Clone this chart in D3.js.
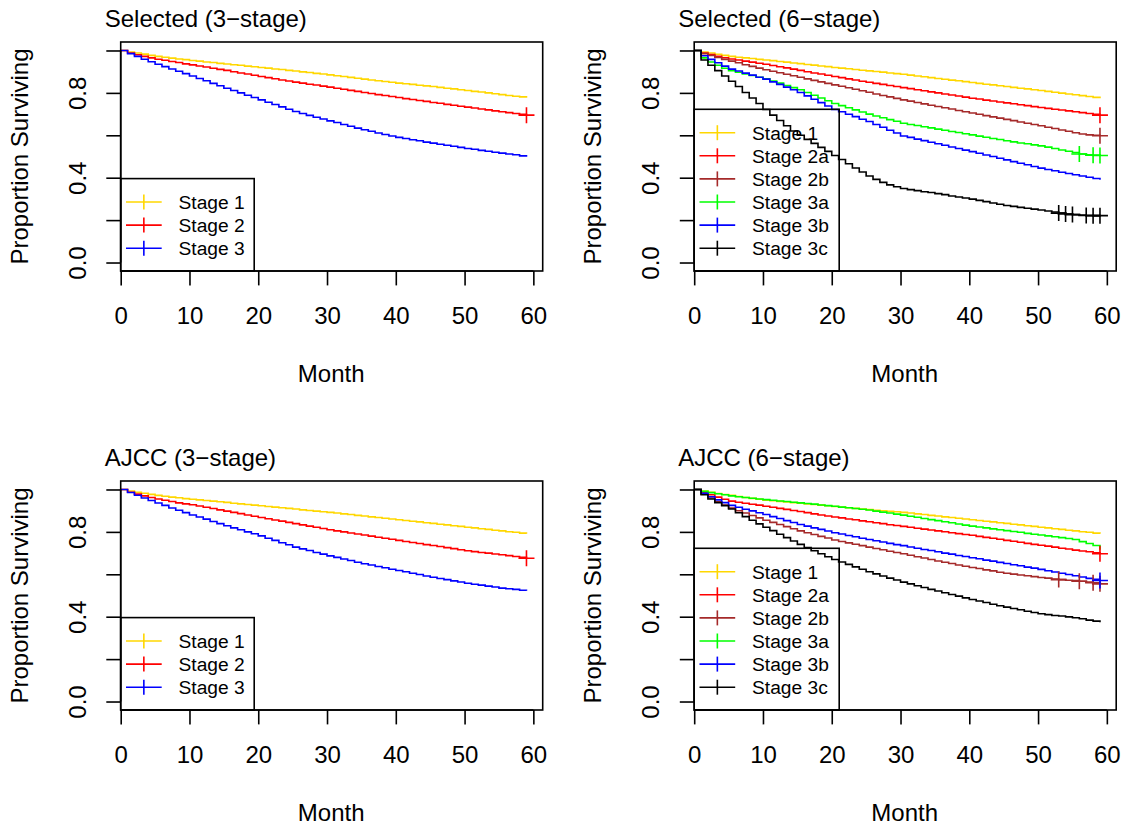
<!DOCTYPE html>
<html>
<head>
<meta charset="utf-8">
<script src="https://cdn.jsdelivr.net/npm/d3@7"></script>
<style>
  html, body { margin: 0; padding: 0; background: #fff; }
  svg { display: block; }
  text { font-family: "Liberation Sans", Arial, Helvetica, sans-serif; fill: #000; }
</style>
</head>
<body>
<svg id="chart" width="1125" height="825"></svg>
<script>
// Kaplan-Meier survival estimates by stage, monthly step values (month 0..59)
const months = d3.range(0, 60);

const xTicks = [0, 10, 20, 30, 40, 50, 60];
const yTicks = [0, 0.2, 0.4, 0.6, 0.8, 1.0];
const yLabelTicks = [0, 0.4, 0.8];

const stageColors = ["#FFD700", "#FF0000", "#A52A2A", "#00FF00", "#0000FF", "#000000"];

// ---- Selected (3-stage)
const sel3Stage1 = [1.000,.993,.988,.983,.977,.972,.968,.964,.960,.957,.953,.950,.946,.943,.939,.936,.933,.930,.926,.923,.920,.917,.913,.910,.906,.903,.899,.896,.892,.889,.885,.881,.877,.873,.869,.865,.861,.857,.854,.850,.846,.843,.840,.836,.833,.830,.826,.822,.819,.815,.811,.807,.804,.800,.796,.792,.788,.784,.781,.777];
const sel3Stage2 = [1.000,.988,.980,.972,.965,.959,.954,.948,.943,.937,.932,.927,.922,.916,.911,.906,.900,.894,.889,.883,.877,.872,.867,.861,.856,.851,.846,.841,.837,.832,.827,.822,.817,.812,.807,.802,.797,.792,.788,.783,.778,.773,.769,.764,.760,.755,.751,.746,.742,.737,.733,.729,.724,.720,.715,.711,.707,.703,.699,.695];
const sel3Stage3 = [1.000,.985,.972,.959,.947,.935,.924,.913,.902,.891,.880,.868,.857,.845,.834,.822,.811,.800,.789,.778,.767,.756,.745,.734,.723,.712,.703,.694,.685,.677,.668,.660,.651,.643,.634,.626,.619,.611,.604,.597,.590,.585,.579,.574,.568,.563,.558,.553,.548,.543,.538,.534,.529,.525,.520,.516,.512,.508,.503,.499];
const sel3Censor = [[], [59], []];

// ---- Selected (6-stage)
const sel6Stage1  = [1.000,.993,.988,.982,.977,.972,.968,.965,.962,.958,.955,.952,.948,.945,.941,.938,.934,.931,.927,.924,.920,.917,.914,.910,.907,.904,.901,.898,.894,.891,.888,.884,.880,.876,.872,.868,.864,.860,.857,.853,.849,.845,.841,.838,.834,.830,.826,.822,.819,.815,.811,.807,.803,.799,.795,.791,.787,.783,.779,.775];
const sel6Stage2a = [1.000,.988,.981,.973,.966,.960,.955,.950,.945,.940,.935,.929,.923,.918,.912,.906,.900,.894,.889,.883,.877,.872,.866,.861,.855,.850,.845,.840,.835,.830,.825,.820,.815,.810,.805,.800,.795,.790,.785,.780,.775,.771,.766,.762,.757,.753,.749,.744,.740,.735,.731,.727,.723,.719,.715,.711,.707,.703,.699,.695];
const sel6Stage2b = [1.000,.985,.976,.967,.958,.950,.942,.933,.925,.917,.909,.902,.895,.888,.881,.874,.866,.859,.852,.845,.838,.831,.824,.817,.810,.803,.795,.788,.781,.774,.767,.761,.755,.748,.742,.736,.730,.724,.717,.711,.705,.699,.693,.687,.681,.675,.669,.663,.657,.651,.645,.638,.632,.625,.619,.612,.606,.602,.600,.598];
const sel6Stage3a = [1.000,.965,.946,.930,.916,.905,.897,.889,.882,.874,.866,.856,.846,.835,.825,.815,.802,.789,.776,.763,.750,.740,.730,.720,.710,.700,.691,.683,.674,.666,.657,.651,.646,.640,.635,.629,.624,.618,.613,.607,.602,.596,.591,.585,.580,.574,.569,.564,.560,.555,.550,.544,.538,.531,.525,.519,.512,.508,.506,.505];
const sel6Stage3b = [1.000,.975,.958,.942,.926,.912,.903,.893,.884,.874,.865,.852,.840,.827,.815,.802,.786,.770,.754,.738,.722,.711,.699,.688,.676,.665,.651,.638,.624,.611,.597,.590,.582,.575,.567,.560,.553,.545,.538,.530,.523,.515,.507,.500,.492,.484,.476,.468,.461,.453,.445,.439,.433,.426,.420,.414,.408,.402,.396,.390];
const sel6Stage3c = [1.000,.955,.930,.905,.880,.855,.830,.802,.776,.750,.722,.695,.670,.645,.620,.600,.581,.562,.543,.524,.505,.486,.466,.446,.427,.408,.392,.378,.366,.357,.349,.344,.339,.334,.330,.325,.320,.314,.309,.304,.299,.293,.287,.281,.275,.269,.265,.260,.256,.252,.248,.243,.238,.233,.229,.226,.224,.222,.221,.221];
const sel6Censor = [[], [59], [59], [56, 58, 59], [], [53, 54, 55, 57, 58, 59]];

// ---- AJCC (3-stage)
const ajcc3Stage1 = [1.000,.993,.987,.982,.977,.972,.968,.964,.961,.957,.954,.951,.948,.945,.942,.939,.935,.932,.929,.926,.923,.920,.917,.914,.911,.908,.904,.901,.898,.895,.892,.889,.885,.882,.878,.875,.871,.868,.864,.861,.857,.854,.850,.847,.843,.840,.836,.833,.829,.826,.822,.819,.815,.812,.808,.805,.801,.798,.794,.791];
const ajcc3Stage2 = [1.000,.987,.978,.970,.962,.955,.949,.943,.937,.932,.928,.922,.916,.910,.904,.898,.892,.886,.880,.874,.868,.862,.856,.851,.845,.839,.833,.827,.822,.816,.810,.805,.800,.795,.790,.785,.780,.775,.770,.765,.760,.755,.750,.745,.740,.736,.731,.726,.721,.716,.711,.707,.703,.700,.696,.692,.688,.684,.680,.676];
const ajcc3Stage3 = [1.000,.986,.973,.960,.948,.936,.925,.913,.902,.891,.880,.870,.860,.849,.839,.829,.819,.810,.800,.791,.781,.770,.760,.749,.739,.728,.720,.712,.703,.695,.687,.680,.672,.665,.657,.650,.644,.637,.631,.624,.618,.612,.605,.599,.592,.586,.580,.575,.569,.564,.558,.553,.549,.544,.540,.535,.532,.529,.525,.522];
const ajcc3Censor = [[], [59], []];

// ---- AJCC (6-stage)
const ajcc6Stage1  = [1.000,.993,.987,.981,.976,.972,.967,.962,.958,.954,.950,.947,.944,.941,.938,.935,.932,.929,.926,.923,.920,.917,.914,.911,.908,.905,.902,.900,.897,.895,.892,.889,.885,.882,.878,.875,.871,.868,.864,.861,.857,.854,.850,.847,.843,.840,.836,.833,.829,.826,.822,.819,.815,.812,.808,.805,.801,.798,.794,.791];
const ajcc6Stage2a = [1.000,.986,.975,.964,.954,.945,.940,.935,.930,.926,.921,.916,.911,.906,.901,.896,.891,.885,.880,.875,.870,.866,.861,.857,.852,.848,.843,.839,.834,.830,.826,.822,.817,.813,.809,.805,.801,.796,.792,.788,.784,.779,.774,.770,.765,.760,.756,.751,.746,.741,.737,.733,.728,.723,.719,.714,.710,.706,.701,.697];
const ajcc6Stage2b = [1.000,.978,.960,.942,.926,.912,.900,.889,.877,.866,.855,.845,.835,.825,.815,.805,.796,.788,.779,.771,.762,.755,.748,.742,.735,.728,.722,.716,.709,.703,.697,.690,.683,.677,.670,.663,.657,.651,.644,.638,.632,.627,.621,.616,.610,.605,.601,.597,.593,.589,.585,.582,.578,.575,.572,.570,.567,.563,.560,.555];
const ajcc6Stage3a = [1.000,.991,.985,.980,.975,.970,.966,.962,.959,.955,.952,.949,.946,.943,.940,.937,.934,.931,.927,.924,.921,.917,.914,.910,.907,.903,.898,.893,.889,.884,.879,.874,.869,.863,.858,.853,.848,.843,.837,.832,.827,.823,.819,.814,.810,.806,.802,.798,.793,.789,.785,.781,.777,.773,.769,.764,.754,.745,.736,.716];
const ajcc6Stage3b = [1.000,.982,.966,.951,.938,.925,.916,.907,.899,.890,.882,.872,.863,.853,.844,.835,.827,.819,.812,.804,.796,.790,.783,.777,.770,.764,.758,.752,.746,.740,.735,.729,.723,.717,.712,.706,.700,.695,.689,.684,.678,.673,.667,.662,.656,.651,.645,.640,.634,.629,.623,.617,.611,.605,.599,.593,.587,.581,.576,.571];
const ajcc6Stage3c = [1.000,.975,.955,.938,.924,.908,.890,.872,.855,.838,.822,.806,.789,.773,.757,.741,.726,.711,.697,.683,.670,.658,.647,.635,.624,.612,.602,.592,.582,.573,.563,.555,.546,.538,.529,.521,.513,.505,.497,.489,.481,.474,.467,.459,.452,.445,.439,.433,.426,.420,.414,.410,.406,.403,.399,.395,.390,.384,.379,.374];
const ajcc6Censor = [[], [59], [53, 56, 58, 59], [], [59], []];

const labels3 = ["Stage 1", "Stage 2", "Stage 3"];
const labels6 = ["Stage 1", "Stage 2a", "Stage 2b", "Stage 3a", "Stage 3b", "Stage 3c"];
const colors3 = [stageColors[0], stageColors[1], stageColors[4]];

const panels = [
  { title: "Selected (3\u2212stage)", col: 0, row: 0, labels: labels3, colors: colors3,
    series: [sel3Stage1, sel3Stage2, sel3Stage3], censor: sel3Censor, legendW: 133.5 },
  { title: "Selected (6\u2212stage)", col: 1, row: 0, labels: labels6, colors: stageColors,
    series: [sel6Stage1, sel6Stage2a, sel6Stage2b, sel6Stage3a, sel6Stage3b, sel6Stage3c], censor: sel6Censor, legendW: 145 },
  { title: "AJCC (3\u2212stage)", col: 0, row: 1, labels: labels3, colors: colors3,
    series: [ajcc3Stage1, ajcc3Stage2, ajcc3Stage3], censor: ajcc3Censor, legendW: 133.5 },
  { title: "AJCC (6\u2212stage)", col: 1, row: 1, labels: labels6, colors: stageColors,
    series: [ajcc6Stage1, ajcc6Stage2a, ajcc6Stage2b, ajcc6Stage3a, ajcc6Stage3b, ajcc6Stage3c], censor: ajcc6Censor, legendW: 145 }
];

// ---- layout
const svg = d3.select("#chart");
const colLeft = [120.7, 694.2];
const rowTop = [42.0, 481.0];
const plotW = 422, plotH = 229;
const lw = 1.6;
const tickLen = 14.4;
const fontMain = 24;
const fontLegend = 19.2;

panels.forEach(p => {
  const left = colLeft[p.col], top = rowTop[p.row];
  const x = d3.scaleLinear().domain([0, 59 * 1.04]).range([left, left + plotW]);
  const y = d3.scaleLinear().domain([-0.04, 1.04]).range([top + plotH, top]);
  const g = svg.append("g");

  // survival curves
  const line = d3.line()
    .x((d, i) => x(months[i]))
    .y(d => y(d))
    .curve(d3.curveStepAfter);

  p.series.forEach((vals, si) => {
    g.append("path")
      .attr("d", line(vals))
      .attr("fill", "none")
      .attr("stroke", p.colors[si])
      .attr("stroke-width", lw)
      .attr("stroke-linejoin", "miter");
  });

  // censoring marks
  const plusHalf = 8;
  p.series.forEach((vals, si) => {
    p.censor[si].forEach(t => {
      const idx = Math.min(Math.floor(t), vals.length - 1);
      const cx = x(t), cy = y(vals[idx]);
      g.append("path")
        .attr("d", `M${cx - plusHalf},${cy}H${cx + plusHalf}M${cx},${cy - plusHalf}V${cy + plusHalf}`)
        .attr("stroke", p.colors[si])
        .attr("stroke-width", lw)
        .attr("fill", "none");
    });
  });

  // plot frame
  g.append("rect")
    .attr("x", left).attr("y", top)
    .attr("width", plotW).attr("height", plotH)
    .attr("fill", "none").attr("stroke", "#000").attr("stroke-width", lw);

  // x axis
  const xAxis = d3.axisBottom(x)
    .tickValues(xTicks)
    .tickSize(tickLen)
    .tickPadding(52.8 - tickLen - 0.71 * fontMain)
    .tickFormat(d3.format("d"));
  const gx = g.append("g")
    .attr("transform", `translate(0,${top + plotH})`)
    .call(xAxis);
  gx.select(".domain").remove();
  gx.selectAll(".tick line").attr("stroke", "#000").attr("stroke-width", lw);
  gx.selectAll(".tick text")
    .attr("font-size", fontMain)
    .attr("font-family", "Liberation Sans, Arial, sans-serif");
  gx.append("line")
    .attr("x1", x(0)).attr("x2", x(60))
    .attr("stroke", "#000").attr("stroke-width", lw);

  // y axis
  const yAxis = d3.axisLeft(y)
    .tickValues(yTicks)
    .tickSize(tickLen)
    .tickFormat(d => yLabelTicks.some(v => Math.abs(v - d) < 1e-9) ? d3.format(".1f")(d) : "");
  const gy = g.append("g")
    .attr("transform", `translate(${left},0)`)
    .call(yAxis);
  gy.select(".domain").remove();
  gy.selectAll(".tick line").attr("stroke", "#000").attr("stroke-width", lw);
  gy.selectAll(".tick text")
    .attr("x", null).attr("dy", null)
    .attr("text-anchor", "middle")
    .attr("font-size", fontMain)
    .attr("font-family", "Liberation Sans, Arial, sans-serif")
    .attr("transform", "translate(-34.8,0) rotate(-90)");
  gy.append("line")
    .attr("y1", y(0)).attr("y2", y(1))
    .attr("stroke", "#000").attr("stroke-width", lw);

  // axis titles
  g.append("text")
    .attr("x", left + plotW / 2 - 0.5).attr("y", top + plotH + 111)
    .attr("text-anchor", "middle")
    .attr("font-size", fontMain)
    .text("Month");
  g.append("text")
    .attr("transform", `translate(${left - 93.2},${(y(0) + y(1)) / 2}) rotate(-90)`)
    .attr("text-anchor", "middle")
    .attr("font-size", fontMain)
    .text("Proportion Surviving");

  // panel title
  g.append("text")
    .attr("x", left - 16).attr("y", top - 15.4)
    .attr("font-size", fontMain)
    .text(p.title);

  // legend (bottom-left, transparent)
  const rowH = 23.1;
  const n = p.labels.length;
  const legH = (n + 1) * rowH;
  const legTop = top + plotH - legH;
  const lg = g.append("g");
  lg.append("rect")
    .attr("x", left).attr("y", legTop)
    .attr("width", p.legendW).attr("height", legH)
    .attr("fill", "none").attr("stroke", "#000").attr("stroke-width", lw);
  p.labels.forEach((lab, i) => {
    const cy = legTop + 23.4 + i * rowH;
    const x1 = left + 5.3, x2 = left + 41, xm = (x1 + x2) / 2;
    lg.append("line")
      .attr("x1", x1).attr("x2", x2).attr("y1", cy).attr("y2", cy)
      .attr("stroke", p.colors[i]).attr("stroke-width", lw);
    lg.append("line")
      .attr("x1", xm).attr("x2", xm).attr("y1", cy - 7.5).attr("y2", cy + 7.5)
      .attr("stroke", p.colors[i]).attr("stroke-width", lw);
    lg.append("text")
      .attr("x", left + 57.8).attr("y", cy + 0.355 * fontLegend)
      .attr("font-size", fontLegend)
      .text(lab);
  });
});
</script>
</body>
</html>
